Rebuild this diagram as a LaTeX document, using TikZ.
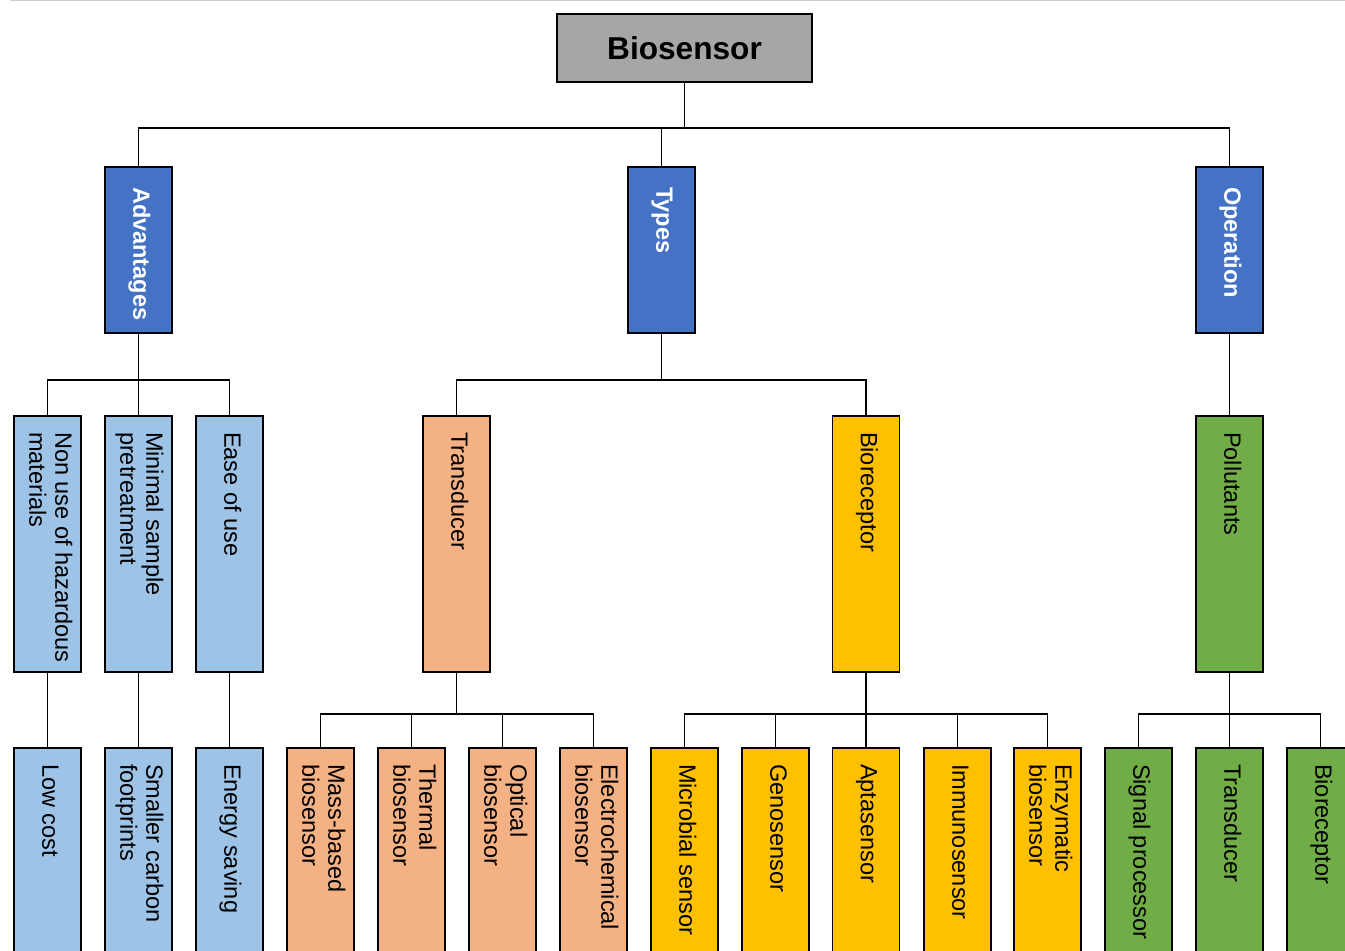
\documentclass[tikz,border=0pt]{standalone}
\usepackage{fontspec}
\setmainfont{Liberation Sans}
\usepackage{graphicx}
\usepackage{xcolor}
\usepackage{tikz}
\usetikzlibrary{calc, positioning}

\definecolor{bioGray}{RGB}{166,166,166}
\definecolor{hdrBlue}{RGB}{68,114,196}
\definecolor{advBlue}{RGB}{157,195,230}
\definecolor{trOrange}{RGB}{244,177,131}
\definecolor{brYellow}{RGB}{255,192,0}
\definecolor{opGreen}{RGB}{112,173,71}

% text running top to bottom inside a box
\newcommand{\vlab}[2]{\rotatebox{-90}{\parbox{#1}{\begin{tabular}{@{}l@{}}#2\end{tabular}}}}

\begin{document}
\begin{tikzpicture}[x=0.02cm, y=-0.02cm,
    box/.style={draw=black, line width=1.1pt, inner sep=0pt, minimum width=1.34cm,
        font=\fontsize{13.4}{14.8}\selectfont},
    hdrbox/.style={box, fill=hdrBlue, text=white, minimum height=3.32cm,
        font=\fontsize{13.4}{14.8}\selectfont\bfseries},
    midbox/.style={box, minimum height=5.12cm},
    lowbox/.style={box, minimum height=5.12cm},
    conn/.style={line width=1.1pt, draw=black}]

    % =================================================================
    % 1. KHUNG HINH
    % =================================================================
    \useasboundingbox (0,0) rectangle (1345,950);
    \draw[black!20, line width=0.6pt] (10,0.6) -- (1345,0.6);
    \clip (0,0) rectangle (1345,950);

    % =================================================================
    % 2. CAC NUT CHINH
    % =================================================================
    \node[draw=black, line width=1.1pt, fill=bioGray, minimum width=5.1cm,
        minimum height=1.36cm, font=\fontsize{18}{20}\selectfont\bfseries]
        (bio) at (684.5,48) {Biosensor};

    % Tang 1
    \node[hdrbox] (adv)   at (138.5,250)  {\vlab{2.52cm}{Advantages}};
    \node[hdrbox] (types) at (661.5,250)  {\vlab{2.52cm}{Types}};
    \node[hdrbox] (oper)  at (1229.5,250) {\vlab{2.52cm}{Operation}};

    % Tang 2
    \node[midbox, fill=advBlue]  (nonuse)  at (47.5,544)   {\vlab{4.48cm}{Non use of hazardous\\materials}};
    \node[midbox, fill=advBlue]  (minimal) at (138.5,544)  {\vlab{4.48cm}{Minimal sample\\pretreatment}};
    \node[midbox, fill=advBlue]  (ease)    at (229.5,544)  {\vlab{4.48cm}{Ease of use}};
    \node[midbox, fill=trOrange] (transd)  at (456.5,544)  {\vlab{4.48cm}{Transducer}};
    \node[midbox, fill=brYellow] (biorec)  at (866,544)    {\vlab{4.48cm}{Bioreceptor}};
    \node[midbox, fill=opGreen]  (poll)    at (1229.5,544) {\vlab{4.48cm}{Pollutants}};

    % Tang 3
    \node[lowbox, fill=advBlue]  (lowcost)  at (47.5,876)   {\vlab{4.48cm}{Low cost}};
    \node[lowbox, fill=advBlue]  (carbon)   at (138.5,876)  {\vlab{4.48cm}{Smaller carbon\\footprints}};
    \node[lowbox, fill=advBlue]  (energy)   at (229.5,876)  {\vlab{4.48cm}{Energy saving}};
    \node[lowbox, fill=trOrange] (mass)     at (320.5,876)  {\vlab{4.48cm}{Mass-based\\biosensor}};
    \node[lowbox, fill=trOrange] (thermal)  at (411.5,876)  {\vlab{4.48cm}{Thermal\\biosensor}};
    \node[lowbox, fill=trOrange] (optical)  at (502.5,876)  {\vlab{4.48cm}{Optical\\biosensor}};
    \node[lowbox, fill=trOrange] (electro)  at (593.5,876)  {\vlab{4.48cm}{Electrochemical\\biosensor}};
    \node[lowbox, fill=brYellow] (microb)   at (684.5,876)  {\vlab{4.48cm}{Microbial sensor}};
    \node[lowbox, fill=brYellow] (geno)     at (775.5,876)  {\vlab{4.48cm}{Genosensor}};
    \node[lowbox, fill=brYellow] (apta)     at (866,876)    {\vlab{4.48cm}{Aptasensor}};
    \node[lowbox, fill=brYellow] (immuno)   at (957.5,876)  {\vlab{4.48cm}{Immunosensor}};
    \node[lowbox, fill=brYellow] (enzym)    at (1047.5,876) {\vlab{4.48cm}{Enzymatic\\biosensor}};
    \node[lowbox, fill=opGreen]  (signal)   at (1138.5,876) {\vlab{4.48cm}{Signal processor}};
    \node[lowbox, fill=opGreen]  (optransd) at (1229.5,876) {\vlab{4.48cm}{Transducer}};
    \node[lowbox, fill=opGreen]  (opbiorec) at (1320.5,876) {\vlab{4.48cm}{Bioreceptor}};

    % =================================================================
    % 3. CAC DUONG NOI
    % =================================================================
    \coordinate (busTop)   at (684.5,128);
    \coordinate (busAdv)   at (138.5,380);
    \coordinate (busTypes) at (661.5,380);
    \coordinate (busTr)    at (456.5,714);
    \coordinate (busBr)    at (866,714);
    \coordinate (busPoll)  at (1229.5,714);

    % Biosensor -> tang 1
    \draw[conn] (bio.south) -- (busTop) -| (adv.north);
    \draw[conn] (busTop) -| (types.north);
    \draw[conn] (busTop) -| (oper.north);

    % Tang 1 -> tang 2
    \draw[conn] (adv.south) -- (busAdv) -| (nonuse.north);
    \draw[conn] (busAdv) -| (ease.north);
    \draw[conn] (busAdv) -- (minimal.north);
    \draw[conn] (types.south) -- (busTypes) -| (transd.north);
    \draw[conn] (busTypes) -| (biorec.north);
    \draw[conn] (oper.south) -- (poll.north);

    % Tang 2 -> tang 3
    \draw[conn] (nonuse.south) -- (lowcost.north);
    \draw[conn] (minimal.south) -- (carbon.north);
    \draw[conn] (ease.south) -- (energy.north);

    \draw[conn] (transd.south) -- (busTr) -| (mass.north);
    \draw[conn] (busTr) -| (thermal.north);
    \draw[conn] (busTr) -| (optical.north);
    \draw[conn] (busTr) -| (electro.north);

    \draw[conn] (biorec.south) -- (busBr) -| (microb.north);
    \draw[conn] (busBr) -| (geno.north);
    \draw[conn] (busBr) -- (apta.north);
    \draw[conn] (busBr) -| (immuno.north);
    \draw[conn] (busBr) -| (enzym.north);

    \draw[conn] (poll.south) -- (busPoll) -| (signal.north);
    \draw[conn] (busPoll) -- (optransd.north);
    \draw[conn] (busPoll) -| (opbiorec.north);

\end{tikzpicture}
\end{document}
